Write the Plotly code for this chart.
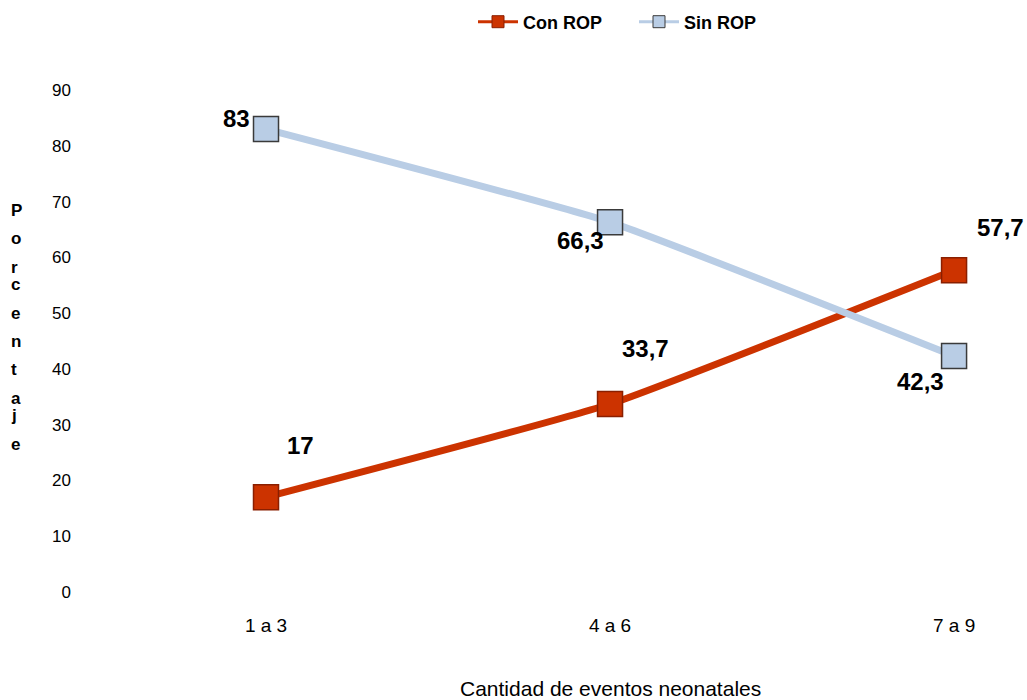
import plotly.graph_objects as go

categorias = ["1 a 3", "4 a 6", "7 a 9"]
con_rop = [17, 33.7, 57.7]
sin_rop = [83, 66.3, 42.3]
y_ticks = [0, 10, 20, 30, 40, 50, 60, 70, 80, 90]

FONT = "Liberation Sans, Arial, sans-serif"
ROJO = "#CC3300"
ROJO_BORDE = "#8A1F00"
AZUL = "#B9CDE5"
AZUL_BORDE = "#3A3A3A"

# plot area in pixels (used to place free text in paper coordinates)
W, H = 1027, 700
L, R, T, B = 94, 0, 90, 108
PW, PH = W - L - R, H - T - B


def px_x(x):
    return (x - L) / PW


def px_y(y):
    return (H - B - y) / PH


def etiqueta(v):
    return f"{v:g}".replace(".", ",")


fig = go.Figure()
series = [("Con ROP", con_rop, ROJO, ROJO_BORDE), ("Sin ROP", sin_rop, AZUL, AZUL_BORDE)]
for nombre, valores, color, borde in series:
    fig.add_trace(go.Scatter(
        x=categorias, y=valores, name=nombre, mode="lines+markers", showlegend=False,
        line=dict(color=color, width=7, shape="spline", smoothing=0.4),
        marker=dict(symbol="square", size=25, color=color, line=dict(color=borde, width=1.5)),
        cliponaxis=False,
    ))
# legend entries with a thinner line and smaller marker
for nombre, valores, color, borde in series:
    fig.add_trace(go.Scatter(
        x=[None], y=[None], name=nombre, mode="lines+markers",
        line=dict(color=color, width=3),
        marker=dict(symbol="square", size=12, color=color, line=dict(color=borde, width=1)),
    ))

# data labels: (shift x, shift y) per point
desp_con = [(34, 52), (35, 56), (46, 43)]
desp_sin = [(-30, 11), (-30, -18), (-34, -25)]
for serie, desp in ((con_rop, desp_con), (sin_rop, desp_sin)):
    for cat, v, (dx, dy) in zip(categorias, serie, desp):
        fig.add_annotation(
            x=cat, y=v, xref="x", yref="y", text=f"<b>{etiqueta(v)}</b>",
            showarrow=False, xshift=dx, yshift=dy,
            font=dict(family=FONT, size=24, color="#000000"),
        )

# vertical axis title, one letter per line
titulo_y = "Porcentaje"
for i, letra in enumerate(titulo_y):
    fig.add_annotation(
        x=px_x(10), y=px_y(200 + i * 28.3), xref="paper", yref="paper",
        text=f"<b>{letra}</b>", showarrow=False, borderpad=0,
        font=dict(family=FONT, size=17, color="#000000"),
    )

fig.add_annotation(
    text="Cantidad de eventos neonatales", x=px_x(610), y=px_y(688),
    xref="paper", yref="paper", showarrow=False, yanchor="middle", borderpad=0,
    font=dict(family=FONT, size=21, color="#000000"),
)

fig.update_layout(
    width=W, height=H,
    margin=dict(l=L, r=R, t=T, b=B, autoexpand=False),
    paper_bgcolor="#FFFFFF", plot_bgcolor="#FFFFFF",
    showlegend=True,
    legend=dict(
        orientation="h", x=px_x(634), xanchor="center", y=px_y(22), yanchor="middle",
        font=dict(family=FONT, size=18, color="#000000", weight="bold"),
        itemwidth=40, entrywidth=106,
    ),
    xaxis=dict(
        type="category", range=[-0.5, 2.212], showgrid=False, zeroline=False,
        showline=False, ticks="", tickfont=dict(family=FONT, size=19, color="#000000"),
        ticklabelstandoff=20,
    ),
    yaxis=dict(
        range=[0, 90], tickvals=y_ticks, showgrid=False, zeroline=False, showline=False,
        ticks="", tickfont=dict(family=FONT, size=17, color="#000000"),
        ticklabelstandoff=22,
    ),
)

fig.write_html("out.html")
